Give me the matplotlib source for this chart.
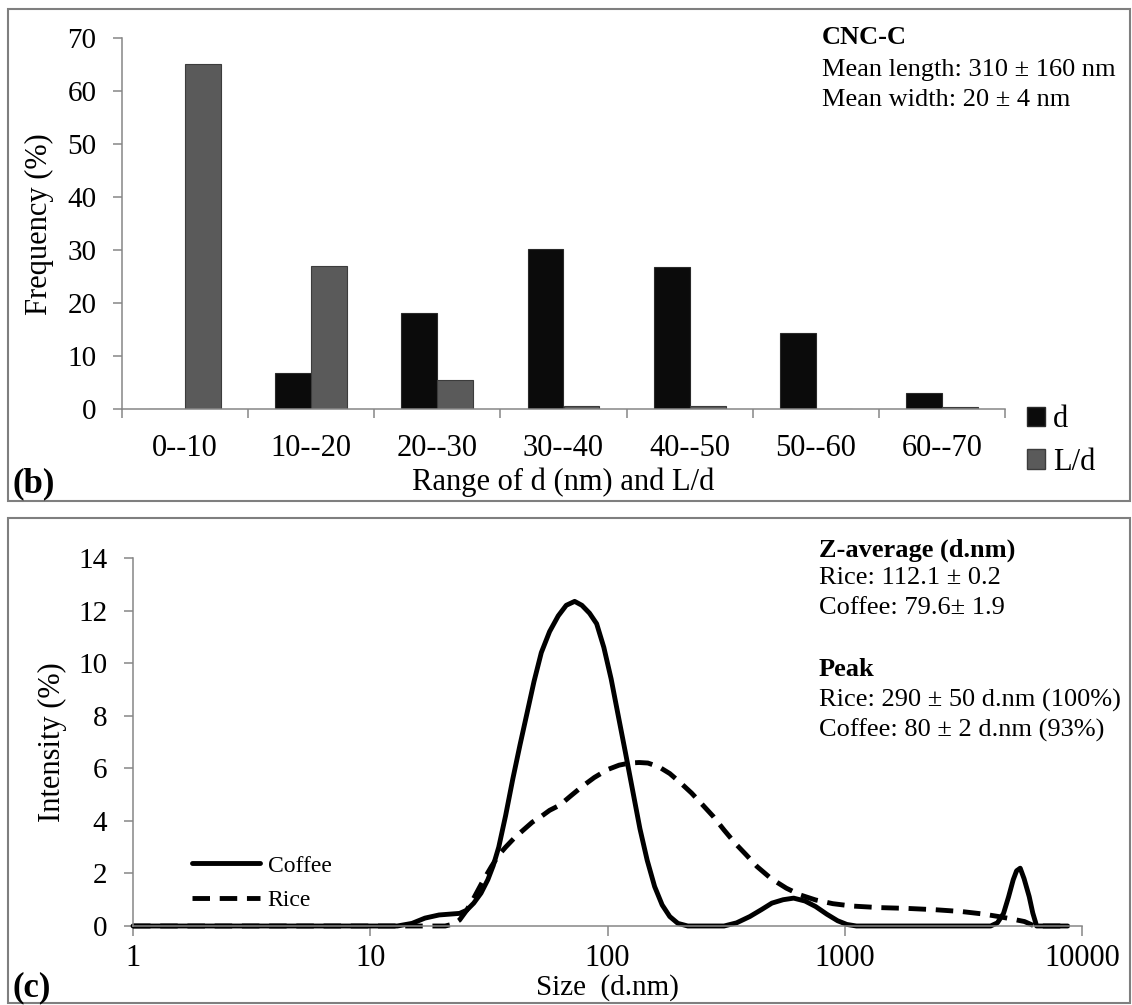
import numpy as np
import matplotlib.pyplot as plt
from matplotlib.patches import Rectangle, Patch

plt.rcParams['font.family'] = ['Liberation Serif', 'DejaVu Serif']

# (b) histogram of width d and aspect ratio L/d
categories = ["0--10", "10--20", "20--30", "30--40", "40--50", "50--60", "60--70"]
freq_d = [0, 6.7, 18.2, 30.1, 26.8, 14.4, 3.0]
freq_ld = [65, 27.0, 5.4, 0.6, 0.6, 0, 0.3]

# (c) DLS intensity distributions
coffee_size = [1, 13, 15, 17, 19.5, 23.8, 25.5, 27.3, 29.3, 31.3, 33, 34.8, 37.2, 39.9,
               42.8, 45.8, 49, 52.6, 57, 62, 67, 72.7, 78, 84, 90, 96.5, 103.6, 111,
               119, 128, 137, 147, 158, 170, 183, 198, 218, 310, 350, 398, 445, 493,
               550, 609, 680, 754, 840, 933, 1020, 1120, 4120, 4400, 4670, 4900,
               5130, 5300, 5490, 5700, 5990, 6200, 6440, 8700]
coffee_int = [0, 0, 0.1, 0.3, 0.42, 0.48, 0.6, 0.87, 1.25, 1.76, 2.3, 3.0, 4.2, 5.6,
              6.9, 8.1, 9.3, 10.4, 11.2, 11.8, 12.2, 12.35, 12.2, 11.9, 11.5, 10.6, 9.4, 8.0,
              6.6, 5.1, 3.7, 2.5, 1.5, 0.8, 0.36, 0.1, 0, 0, 0.12, 0.36, 0.62, 0.87,
              1.0, 1.06, 0.95, 0.74, 0.45, 0.2, 0.06, 0, 0, 0.12, 0.48, 1.1,
              1.76, 2.1, 2.2, 1.8, 1.12, 0.5, 0, 0]
rice_size = [1, 20.7, 22.5, 23.8, 25.5, 27.3, 29.8, 32.4, 34.8, 37.2, 40.5, 44.3, 48.2,
             52.6, 57, 63, 70, 78, 88, 100, 112, 124, 136, 148, 165, 183, 203, 226,
             251, 279, 310, 345, 385, 427, 490, 567, 650, 754, 890, 1070, 1400, 1830,
             2400, 3110, 3800, 4450, 5100, 5720, 6310, 8700]
rice_int = [0, 0, 0.08, 0.23, 0.6, 1.06, 1.7, 2.26, 2.7, 3.0, 3.35, 3.66, 3.95,
            4.17, 4.4, 4.6, 4.95, 5.3, 5.65, 5.95, 6.12, 6.2, 6.22, 6.2, 6.05, 5.8, 5.45, 5.06,
            4.62, 4.17, 3.65, 3.15, 2.7, 2.26, 1.8, 1.44, 1.18, 0.99, 0.85, 0.76, 0.7, 0.67,
            0.62, 0.55, 0.46, 0.36, 0.26, 0.17, 0, 0]

W, H = 1132, 1005
GRAY = '#868686'


def fx(x):
    return x / W


def fy(y):
    return 1 - y / H


def axes_rect(left, right, top, bottom):
    return [fx(left), fy(bottom), (right - left) / W, (bottom - top) / H]


fig = plt.figure(figsize=(W / 100, H / 100), dpi=100)

# panel frames
for (x0, y0, x1, y1) in [(8, 9, 1130, 501), (8, 518, 1130, 1003)]:
    fig.patches.append(Rectangle((fx(x0), fy(y1)), (x1 - x0) / W, (y1 - y0) / H,
                                 transform=fig.transFigure, fill=False,
                                 edgecolor='#7f7f7f', linewidth=1.5))

# ---- panel (b)
ax1 = fig.add_axes(axes_rect(122, 1005, 38, 409))
x = np.arange(len(categories))
bw = 0.285
ax1.bar(x - bw / 2, freq_d, bw, color='#0b0b0b', edgecolor='#2a2a2a', linewidth=0.8, label='d')
ax1.bar(x + bw / 2, freq_ld, bw, color='#5a5a5a', edgecolor='#3c3c3c', linewidth=0.8, label='L/d')
ax1.set_xlim(-0.5, len(categories) - 0.5)
ax1.set_ylim(0, 70)
ax1.set_yticks(range(0, 71, 10))
ax1.set_xticks(x)
ax1.set_xticklabels(categories)
ax1.set_xticks(np.arange(-0.5, len(categories)), minor=True)
ax1.tick_params(axis='x', which='major', length=0, pad=18, labelsize=22)
ax1.tick_params(axis='x', which='minor', length=6.5, width=1.1, color=GRAY, direction='out')
ax1.tick_params(axis='y', length=6.5, width=1.1, color=GRAY, pad=12, labelsize=21)
for s in ['top', 'right']:
    ax1.spines[s].set_visible(False)
for s in ['left', 'bottom']:
    ax1.spines[s].set_color(GRAY)
    ax1.spines[s].set_linewidth(1.1)

handles = [Patch(facecolor='#0b0b0b', edgecolor='#2a2a2a'),
           Patch(facecolor='#5a5a5a', edgecolor='#3c3c3c')]
fig.legend(handles, ['d', 'L/d'], loc='upper left', bbox_to_anchor=(fx(1027), fy(405)),
           frameon=False, fontsize=22, handlelength=0.6, handleheight=0.6,
           handletextpad=0.25, labelspacing=0.45, borderpad=0, borderaxespad=0)

fig.text(fx(39), fy(224), 'Frequency (%)', rotation=90, ha='center', va='center', fontsize=22)
fig.text(fx(563), fy(482), 'Range of d (nm) and L/d', ha='center', va='center', fontsize=22)
fig.text(fx(12), fy(484), '(b)', ha='left', va='center', fontsize=25, fontweight='bold')
fig.text(fx(822), fy(38), 'CNC-C', ha='left', va='center', fontsize=19, fontweight='bold')
fig.text(fx(822), fy(70), 'Mean length: 310 \u00b1 160 nm', ha='left', va='center', fontsize=19)
fig.text(fx(822), fy(100), 'Mean width: 20 \u00b1 4 nm', ha='left', va='center', fontsize=19)

# ---- panel (c)
ax2 = fig.add_axes(axes_rect(133, 1082, 558, 926))
ax2.plot(coffee_size, coffee_int, color='black', linewidth=3.5, solid_joinstyle='round',
         solid_capstyle='round', clip_on=False, label='Coffee')
ax2.plot(rice_size, rice_int, color='black', linewidth=3.5, dashes=(3.6, 2.0),
         clip_on=False, label='Rice')
ax2.set_xscale('log')
ax2.set_xlim(1, 10000)
ax2.set_ylim(0, 14)
ax2.set_yticks(range(0, 15, 2))
ax2.set_xticks([1, 10, 100, 1000, 10000])
ax2.set_xticklabels(['1', '10', '100', '1000', '10000'])
ax2.minorticks_off()
ax2.tick_params(axis='x', length=7, width=1.1, color=GRAY, pad=6, labelsize=22)
ax2.tick_params(axis='y', length=6.5, width=1.1, color=GRAY, pad=12, labelsize=21)
for s in ['top', 'right']:
    ax2.spines[s].set_visible(False)
for s in ['left', 'bottom']:
    ax2.spines[s].set_color(GRAY)
    ax2.spines[s].set_linewidth(1.1)

ax2.legend(loc='upper left', bbox_to_anchor=(fx(192), fy(855)), bbox_transform=fig.transFigure,
           frameon=False, fontsize=17, handlelength=2.9, handletextpad=0.3,
           labelspacing=0.55, borderpad=0, borderaxespad=0)

fig.text(fx(52), fy(742), 'Intensity (%)', rotation=90, ha='center', va='center', fontsize=22)
fig.text(fx(607), fy(988), 'Size  (d.nm)', ha='center', va='center', fontsize=21)
fig.text(fx(12), fy(988), '(c)', ha='left', va='center', fontsize=25, fontweight='bold')

info = [('Z-average (d.nm)', 550, 'bold'), ('Rice: 112.1 \u00b1 0.2', 578, 'normal'),
        ('Coffee: 79.6\u00b1 1.9', 608, 'normal'), ('Peak', 670, 'bold'),
        ('Rice: 290 \u00b1 50 d.nm (100%)', 700, 'normal'),
        ('Coffee: 80 \u00b1 2 d.nm (93%)', 730, 'normal')]
for txt, ypos, wt in info:
    fig.text(fx(819), fy(ypos), txt, ha='left', va='center', fontsize=19, fontweight=wt)

fig.savefig('out.png', dpi=100)
